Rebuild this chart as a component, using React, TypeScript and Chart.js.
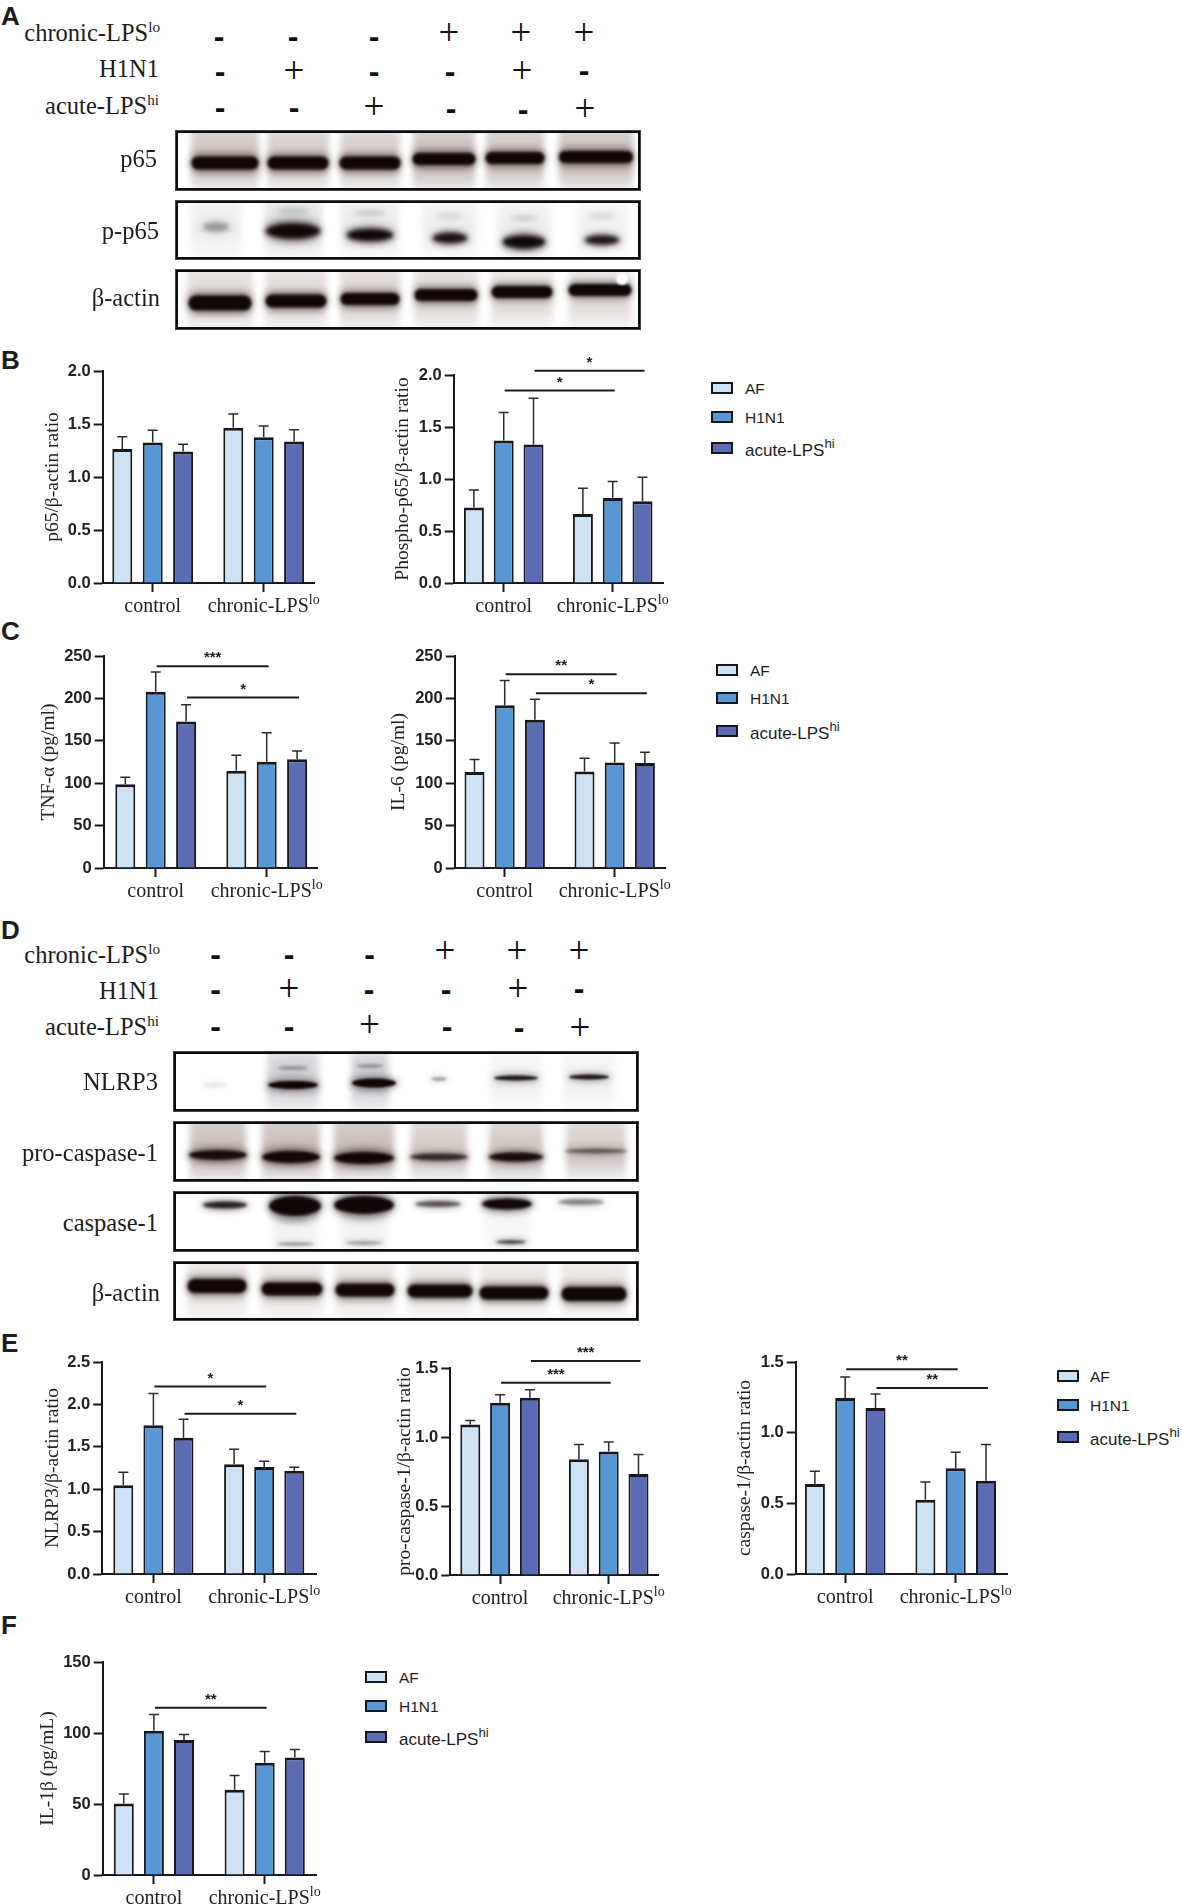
import React, { useEffect, useRef } from "react";
import { Chart, registerables, CategoryScale } from "chart.js";

class GapCategoryScale extends (CategoryScale as any) {
  static id = "gapCategory";
  static defaults = (CategoryScale as any).defaults;
  configure() {
    super.configure();
    (this as any)._startValue = (this as any).options.gapStart;
    (this as any)._valueRange = (this as any).options.gapRange;
  }
}
Chart.register(...registerables, GapCategoryScale as any);

const SERIF = '"Liberation Serif", serif';
const SANS = '"Liberation Sans", sans-serif';
const INK = "#16181e";

const groups = ["control", "chronic-LPSlo"];
const seriesNames = ["AF", "H1N1", "acute-LPS"];
const seriesColors = ["#cfe2f3", "#5897d3", "#5b6bb4"];

// value = [control, chronic-LPSlo]; the t arrays hold the top of each error bar
const p65AF = [1.265, 1.465], p65H1 = [1.325, 1.375], p65Ac = [1.24, 1.335];
const p65AFt = [1.38, 1.595], p65H1t = [1.44, 1.48], p65Act = [1.31, 1.445];
const ppAF = [0.727, 0.664], ppH1 = [1.371, 0.818], ppAc = [1.332, 0.787];
const ppAFt = [0.895, 0.91], ppH1t = [1.64, 0.975], ppAct = [1.776, 1.017];
const tnfAF = [98.8, 114.8], tnfH1 = [207.8, 125.3], tnfAc = [172.8, 128.3];
const tnfAFt = [107, 133], tnfH1t = [231, 159.5], tnfAct = [192.5, 138];
const il6AF = [113.3, 113.8], il6H1 = [191.8, 124.4], il6Ac = [174.8, 123.8];
const il6AFt = [128, 129.5], il6H1t = [221, 147.5], il6Act = [199, 136.5];
const nlAF = [1.048, 1.293], nlH1 = [1.753, 1.263], nlAc = [1.608, 1.218];
const nlAFt = [1.2, 1.47], nlH1t = [2.13, 1.33], nlAct = [1.825, 1.26];
const proAF = [1.091, 0.839], proH1 = [1.248, 0.895], proAc = [1.285, 0.731];
const proAFt = [1.12, 0.945], proH1t = [1.306, 0.964], proAct = [1.343, 0.873];
const casAF = [0.636, 0.525], casH1 = [1.246, 0.748], casAc = [1.174, 0.66];
const casAFt = [0.727, 0.651], casH1t = [1.394, 0.862], casAct = [1.274, 0.916];
const il1AF = [50.4, 60], il1H1 = [101.6, 79], il1Ac = [95, 82.7];
const il1AFt = [57, 70], il1H1t = [113, 87], il1Act = [99, 88.4];

const panels = [
  { title: "p65/β-actin ratio", max: 2, step: 0.5, dec: 1, axisX: 103, end: 315, top: 370.5, bottom: 582.5, titleX: 53, c0: 153, c1: 264, sp: 30.4,
    v: [p65AF, p65H1, p65Ac], e: [p65AFt, p65H1t, p65Act], sig: [] as any[] },
  { title: "Phospho-p65/β-actin ratio", max: 2, step: 0.5, dec: 1, axisX: 454, end: 664, top: 375, bottom: 583, titleX: 403, c0: 504, c1: 613, sp: 29.8,
    v: [ppAF, ppH1, ppAc], e: [ppAFt, ppH1t, ppAct], sig: [{ ds: 1, y: 1.85, t: "*" }, { ds: 2, y: 2.04, t: "*" }] },
  { title: "TNF-α (pg/ml)", max: 250, step: 50, dec: 0, axisX: 104, end: 318, top: 656, bottom: 867.6, titleX: 49, c0: 156, c1: 267, sp: 30.4,
    v: [tnfAF, tnfH1, tnfAc], e: [tnfAFt, tnfH1t, tnfAct], sig: [{ ds: 1, y: 238, t: "***" }, { ds: 2, y: 201, t: "*" }] },
  { title: "IL-6 (pg/ml)", max: 250, step: 50, dec: 0, axisX: 455, end: 666, top: 656, bottom: 868, titleX: 399, c0: 505, c1: 615, sp: 30.2,
    v: [il6AF, il6H1, il6Ac], e: [il6AFt, il6H1t, il6Act], sig: [{ ds: 1, y: 228.6, t: "**" }, { ds: 2, y: 206, t: "*" }] },
  { title: "NLRP3/β-actin ratio", max: 2.5, step: 0.5, dec: 1, axisX: 102.5, end: 316.5, top: 1362, bottom: 1574, titleX: 53, c0: 153.7, c1: 264.5, sp: 30.1,
    v: [nlAF, nlH1, nlAc], e: [nlAFt, nlH1t, nlAct], sig: [{ ds: 1, y: 2.21, t: "*" }, { ds: 2, y: 1.89, t: "*" }] },
  { title: "pro-caspase-1/β-actin ratio", max: 1.5, step: 0.5, dec: 1, axisX: 450.6, end: 659, top: 1368, bottom: 1575, titleX: 405, c0: 500.4, c1: 609, sp: 29.8,
    v: [proAF, proH1, proAc], e: [proAFt, proH1t, proAct], sig: [{ ds: 1, y: 1.394, t: "***" }, { ds: 2, y: 1.55, t: "***" }] },
  { title: "caspase-1/β-actin ratio", max: 1.5, step: 0.5, dec: 1, axisX: 796, end: 1008, top: 1362, bottom: 1574, titleX: 745, c0: 845.5, c1: 956, sp: 30.3,
    v: [casAF, casH1, casAc], e: [casAFt, casH1t, casAct], sig: [{ ds: 1, y: 1.448, t: "**" }, { ds: 2, y: 1.316, t: "**" }] },
  { title: "IL-1β (pg/mL)", max: 150, step: 50, dec: 0, axisX: 102.5, end: 316.5, top: 1662, bottom: 1875, titleX: 47.5, c0: 153.7, c1: 264.5, sp: 30.1,
    v: [il1AF, il1H1, il1Ac], e: [il1AFt, il1H1t, il1Act], sig: [{ ds: 1, y: 117.7, t: "**" }] },
];

const errorAndSigPlugin = {
  id: "errorAndSig",
  afterDatasetsDraw(chart: any, _a: any, opts: any) {
    const ctx = chart.ctx;
    const y = chart.scales.y;
    const x = chart.scales.x;
    ctx.save();
    ctx.strokeStyle = "#2a2c33";
    ctx.lineWidth = 1.5;
    opts.tops.forEach((arr: number[], ds: number) => {
      chart.getDatasetMeta(ds).data.forEach((bar: any, i: number) => {
        const yt = y.getPixelForValue(arr[i]);
        ctx.beginPath();
        ctx.moveTo(bar.x, bar.y);
        ctx.lineTo(bar.x, yt);
        ctx.moveTo(bar.x - 5, yt);
        ctx.lineTo(bar.x + 5, yt);
        ctx.stroke();
      });
    });
    ctx.strokeStyle = "#1c1c1c";
    ctx.lineWidth = 2;
    ctx.fillStyle = "#222";
    ctx.font = `bold 15px ${SANS}`;
    ctx.textAlign = "center";
    ctx.textBaseline = "middle";
    opts.sig.forEach((s: any) => {
      const d = chart.getDatasetMeta(s.ds).data;
      const x0 = d[0].x + 1, x1 = d[1].x + 2, yp = y.getPixelForValue(s.y);
      ctx.beginPath();
      ctx.moveTo(x0, yp);
      ctx.lineTo(x1, yp);
      ctx.stroke();
      ctx.fillText(s.t, (x0 + x1) / 2, yp - 8);
    });
    // x tick labels with their raised suffix
    const yl = y.bottom + 24;
    x.getLabels().forEach((label: string, i: number) => {
      const m = label.match(/^(.*-LPS)(lo)$/);
      const base = m ? m[1] : label;
      const px = x.getPixelForTick(i);
      ctx.font = `20px ${SERIF}`;
      const wb = ctx.measureText(base).width;
      ctx.font = `14px ${SERIF}`;
      const ws = m ? ctx.measureText(m[2]).width : 0;
      const left = px - (wb + ws) / 2;
      ctx.textAlign = "left";
      ctx.fillStyle = "#222";
      ctx.font = `20px ${SERIF}`;
      ctx.fillText(base, left, yl);
      if (m) {
        ctx.font = `14px ${SERIF}`;
        ctx.fillText(m[2], left + wb, yl - 7);
      }
    });
    ctx.restore();
  },
};

function BarPanel({ p }: { p: any }) {
  const ref = useRef<HTMLCanvasElement>(null);
  const PAD_TOP = 50, X_H = 38, PAD_R = 24;
  const tf = 19.5;
  const leftW = p.axisX - p.titleX + tf * 0.6;
  const plotW = p.end - p.axisX;
  const plotH = p.bottom - p.top;
  const W = Math.ceil(leftW + plotW + PAD_R);
  const H = Math.ceil(PAD_TOP + plotH + X_H);
  useEffect(() => {
    const unit = p.c1 - p.c0;
    const chart = new Chart(ref.current as any, {
      type: "bar",
      data: {
        labels: groups,
        datasets: p.v.map((vals: number[], i: number) => ({
          label: seriesNames[i],
          data: vals,
          backgroundColor: seriesColors[i],
          borderColor: INK,
          borderWidth: { top: 3, left: 2, right: 2, bottom: 0 },
          borderSkipped: false,
          categoryPercentage: (3 * p.sp) / unit,
          barPercentage: 20 / p.sp,
        })),
      },
      options: {
        animation: false,
        responsive: false,
        devicePixelRatio: 1,
        layout: { padding: { top: PAD_TOP, right: W - leftW - plotW, left: 0, bottom: 0 } },
        plugins: {
          legend: { display: false },
          tooltip: { enabled: false },
          errorAndSig: { tops: p.e, sig: p.sig },
        },
        scales: {
          x: {
            type: "gapCategory",
            gapStart: -(p.c0 - p.axisX) / unit,
            gapRange: plotW / unit,
            offset: false,
            grid: { offset: false, drawOnChartArea: false, tickLength: 9, tickWidth: 2, color: INK },
            border: { width: 2, color: INK },
            ticks: { display: false, autoSkip: false, maxRotation: 0, minRotation: 0 },
            afterFit(s: any) { s.height = X_H; s.paddingLeft = 0; s.paddingRight = 0; },
          },
          y: {
            min: 0,
            max: p.max,
            grid: { drawOnChartArea: false, tickLength: 9, tickWidth: 2, color: INK },
            border: { width: 2, color: INK },
            ticks: {
              stepSize: p.step,
              padding: 3,
              color: "#222",
              font: { family: SANS, size: 16.5, weight: "bold" },
              callback: (v: any) => Number(v).toFixed(p.dec),
            },
            title: { display: true, text: p.title, color: "#222", padding: 0, font: { family: SERIF, size: tf } },
            afterFit(s: any) { s.width = leftW; s.paddingTop = 0; s.paddingBottom = 0; },
          },
        },
      } as any,
      plugins: [errorAndSigPlugin],
    });
    return () => chart.destroy();
  }, []);
  return (
    <canvas
      ref={ref}
      width={W}
      height={H}
      style={{ position: "absolute", left: p.titleX - tf * 0.6, top: p.top - PAD_TOP, width: W, height: H }}
    />
  );
}

// Western blots: band tables in the blot's own coordinates
const BR = "rgba(112,84,72,";
const GR = "rgba(105,110,125,";
const blots = [
  { name: "p65", x: 176, y: 131, w: 464, h: 59, tone: BR, soft: 1.8, ell: 0,
    bx: [49, 122, 194, 268, 339, 420], by: [32, 32, 32, 28, 27, 26], bw: [67, 61, 61, 63, 59, 74], bh: [13, 13, 13, 12, 12, 12], bd: [1, 1, 1, 1, 1, 1],
    sx: [49, 122, 194, 268, 339, 420], sw: [68, 62, 60, 62, 58, 74], sa: [0.42, 0.36, 0.36, 0.45, 0.42, 0.45] },
  { name: "p-p65", x: 176, y: 201, w: 464, h: 58, tone: GR, soft: 2.2, ell: 1,
    bx: [40, 117, 194, 274, 348, 426, 40, 117, 194, 274, 348, 426], by: [26, 30, 34, 37, 41, 39, 26, 10, 12, 15, 17, 15], bw: [26, 54, 46, 34, 42, 34, 26, 30, 30, 26, 26, 26], bh: [9, 15, 12, 10, 13, 9, 5, 6, 5, 5, 5, 5], bd: [0.28, 1, 1, 0.95, 1, 0.9, 0, 0.12, 0.12, 0.1, 0.12, 0.1],
    sx: [40, 117, 194, 274, 348, 426], sw: [50, 57, 57, 55, 55, 50], sa: [0.13, 0.24, 0.16, 0.12, 0.12, 0.1] },
  { name: "β-actin", x: 176, y: 270, w: 464, h: 59, tone: BR, soft: 1.8, ell: 0,
    bx: [44, 120, 194, 270, 346, 424], by: [33, 31, 29, 25, 22, 20], bw: [63, 61, 59, 63, 61, 63], bh: [15, 13, 12, 12, 12, 12], bd: [1, 1, 1, 1, 1, 1],
    sx: [44, 120, 194, 270, 346, 424], sw: [66, 62, 60, 64, 62, 62], sa: [0.26, 0.26, 0.3, 0.26, 0.22, 0.22], spot: [446, 9, 6] },
  { name: "NLRP3", x: 174, y: 1052, w: 464, h: 59, tone: GR, soft: 1, ell: 1,
    bx: [41, 119, 200, 265, 342, 415, 119, 196], by: [33, 33, 31, 27, 26, 25, 16, 14], bw: [24, 50, 44, 16, 44, 40, 30, 26], bh: [6, 8, 9, 4, 5, 5, 4, 4], bd: [0.06, 1, 1, 0.3, 0.9, 0.9, 0.25, 0.25],
    sx: [119, 196, 342, 415], sw: [52, 38, 50, 50], sa: [0.36, 0.36, 0.1, 0.1] },
  { name: "pro-caspase-1", x: 174, y: 1122, w: 464, h: 59, tone: BR, soft: 1.6, ell: 1,
    bx: [44, 117, 190, 265, 342, 422], by: [33, 35, 36, 35, 35, 29], bw: [58, 58, 60, 58, 54, 62], bh: [10, 12, 12, 7, 9, 5], bd: [0.95, 1, 1, 0.75, 0.95, 0.5],
    sx: [44, 117, 190, 265, 342, 422], sw: [56, 58, 60, 56, 54, 60], sa: [0.45, 0.46, 0.46, 0.36, 0.38, 0.34] },
  { name: "caspase-1", x: 174, y: 1192, w: 464, h: 59, tone: GR, soft: 1.8, ell: 1,
    bx: [51, 121, 190, 264, 333, 407, 121, 190, 337], by: [13, 14, 13, 12, 12, 10, 52, 51, 50], bw: [44, 52, 60, 46, 50, 46, 38, 38, 30], bh: [7, 20, 18, 6, 11, 6, 3, 3, 3], bd: [0.85, 1, 1, 0.6, 1, 0.4, 0.4, 0.4, 0.9],
    sx: [121, 190, 333], sw: [46, 46, 46], sa: [0.14, 0.14, 0.08] },
  { name: "β-actin", x: 174, y: 1262, w: 464, h: 58, tone: BR, soft: 1.8, ell: 0,
    bx: [43, 118, 191, 266, 340, 420], by: [24, 27, 28, 29, 31, 32], bw: [59, 61, 59, 65, 69, 65], bh: [14, 13, 13, 13, 13, 14], bd: [1, 1, 1, 1, 1, 1],
    sx: [43, 118, 191, 266, 340, 420], sw: [60, 62, 60, 64, 68, 66], sa: [0.2, 0.2, 0.2, 0.18, 0.18, 0.18] },
];

const blotPlugin = {
  id: "blotBands",
  beforeDatasetsDraw(chart: any, _a: any, opts: any) {
    const b = opts.blot;
    const { ctx, scales: { x, y }, chartArea } = chart;
    ctx.save();
    ctx.beginPath();
    ctx.rect(chartArea.left, chartArea.top, chartArea.right - chartArea.left, chartArea.bottom - chartArea.top);
    ctx.clip();
    ctx.fillStyle = "#fff";
    ctx.fillRect(0, 0, chart.width, chart.height);
    b.sx.forEach((sx: number, i: number) => {
      const w = x.getPixelForValue(b.sw[i]) - x.getPixelForValue(0);
      const g = ctx.createLinearGradient(0, 0, 0, chart.height);
      const mid = Math.min(0.9, Math.max(0.1, b.by[0] / chart.height));
      g.addColorStop(0, b.tone + (b.sa[i] * 0.6).toFixed(3) + ")");
      g.addColorStop(mid, b.tone + b.sa[i].toFixed(3) + ")");
      g.addColorStop(1, b.tone + (b.sa[i] * 0.28).toFixed(3) + ")");
      ctx.filter = "blur(3px)";
      ctx.fillStyle = g;
      ctx.fillRect(x.getPixelForValue(sx) - w / 2, -6, w, chart.height + 12);
    });
    b.bx.forEach((bx: number, i: number) => {
      if (!b.bd[i]) return;
      const cx = x.getPixelForValue(bx), cy = y.getPixelForValue(b.by[i]);
      const w = x.getPixelForValue(b.bw[i]) - x.getPixelForValue(0);
      const h = b.bh[i];
      ctx.filter = "blur(3.5px)";
      ctx.fillStyle = `rgba(30,14,12,${0.45 * b.bd[i]})`;
      ctx.beginPath();
      if (b.ell) ctx.ellipse(cx, cy, w / 2 + 2, h * 0.8, 0, 0, Math.PI * 2);
      else ctx.roundRect(cx - w / 2 - 1, cy - h * 0.75, w + 2, h * 1.5, h * 0.7);
      ctx.fill();
      ctx.filter = `blur(${b.soft}px)`;
      ctx.fillStyle = `rgba(18,7,7,${b.bd[i]})`;
      ctx.beginPath();
      if (b.ell) ctx.ellipse(cx, cy, w / 2, h / 2, 0, 0, Math.PI * 2);
      else ctx.roundRect(cx - w / 2, cy - h / 2, w, h, h / 2);
      ctx.fill();
    });
    if (b.spot) {
      ctx.filter = "blur(1px)";
      ctx.fillStyle = "#fff";
      ctx.beginPath();
      ctx.arc(x.getPixelForValue(b.spot[0]), y.getPixelForValue(b.spot[1]), b.spot[2], 0, Math.PI * 2);
      ctx.fill();
    }
    ctx.restore();
  },
};

function Blot({ b }: { b: any }) {
  const ref = useRef<HTMLCanvasElement>(null);
  const BW = 2;
  useEffect(() => {
    const chart = new Chart(ref.current as any, {
      type: "scatter",
      data: {
        datasets: [{ label: b.name, data: b.bx.map((x: number, i: number) => ({ x, y: b.by[i] })), pointRadius: 0 }],
      },
      options: {
        animation: false,
        responsive: false,
        devicePixelRatio: 1,
        layout: { padding: 0 },
        plugins: { legend: { display: false }, tooltip: { enabled: false }, blotBands: { blot: b } },
        scales: {
          x: { display: false, min: BW, max: b.w - BW },
          y: { display: false, min: BW, max: b.h - BW, reverse: true },
        },
      } as any,
      plugins: [blotPlugin],
    });
    return () => chart.destroy();
  }, []);
  return (
    <div style={{ position: "absolute", left: b.x, top: b.y, width: b.w, height: b.h, boxSizing: "border-box", border: `${BW}px solid #0c0c0c`, outline: "0.5px solid #444" }}>
      <canvas ref={ref} width={b.w - 2 * BW} height={b.h - 2 * BW} style={{ display: "block", width: b.w - 2 * BW, height: b.h - 2 * BW }} />
    </div>
  );
}

function Txt({ x, y, right, children, size = 24.5, family = SERIF, weight = 400 }: any) {
  const st: any = { position: "absolute", top: y, transform: "translateY(-50%)", fontFamily: family, fontSize: size, fontWeight: weight, lineHeight: 1, whiteSpace: "nowrap", color: "#1d1d1d" };
  if (right !== undefined) st.right = 1182 - right; else st.left = x;
  return <div style={st}>{children}</div>;
}

const Sup = ({ children, size = "62%" }: any) => <sup style={{ fontSize: size, lineHeight: 0, verticalAlign: "baseline", position: "relative", top: "-0.6em" }}>{children}</sup>;

function Sym({ s, x, y }: { s: string; x: number; y: number }) {
  const plus = s === "+";
  return (
    <div style={{
      position: "absolute", left: x, top: y, transform: "translate(-50%,-50%)",
      fontFamily: plus ? SERIF : SANS, fontWeight: plus ? 400 : 700, fontSize: plus ? 37 : 32, lineHeight: 1,
      color: "#111", marginTop: -1,
    }}>{s}</div>
  );
}

const rowChronic = ["-", "-", "-", "+", "+", "+"];
const rowH1N1 = ["-", "+", "-", "-", "+", "-"];
const rowAcute = ["-", "-", "+", "-", "-", "+"];
const tableRows = [rowChronic, rowH1N1, rowAcute];

const tableAx = [[219, 293, 374, 449, 521, 584], [220, 294, 374, 450, 522, 584], [220, 294, 374, 451, 523, 585]];
const tableAy = [[37, 37, 37, 33, 33, 33], [72, 71, 72, 72, 71, 71], [108, 108, 107, 109, 110, 109]];
const tableDx = [[215.5, 289, 369.5, 445, 517, 579], [215.5, 289, 369, 446, 518, 579], [215.5, 289, 369.5, 447, 519, 580]];
const tableDy = [[955, 955, 955, 951, 951, 951], [990, 989, 990, 990, 989, 989], [1027, 1027, 1025, 1027, 1028, 1028]];

function Table({ xs, ys, labelY }: any) {
  return (
    <>
      <Txt right={160} y={labelY[0]}>chronic-LPS<Sup>lo</Sup></Txt>
      <Txt right={159} y={labelY[1]}>H1N1</Txt>
      <Txt right={159} y={labelY[2]}>acute-LPS<Sup>hi</Sup></Txt>
      {tableRows.map((row, r) => row.map((s, c) => <Sym key={r + "-" + c} s={s} x={xs[r][c]} y={ys[r][c]} />))}
    </>
  );
}

function Legend({ x, tx, ys }: any) {
  return (
    <>
      {seriesNames.map((n, i) => (
        <React.Fragment key={n}>
          <div style={{ position: "absolute", left: x, top: ys[i] - 6, width: 22, height: 12, boxSizing: "border-box", background: seriesColors[i], border: `2px solid ${INK}` }} />
          <Txt x={tx} y={ys[i] + (i === 2 ? 2 : 1)} size={i === 2 ? 17 : 15.5} family={SANS}>{n}{i === 2 ? <Sup size="78%">hi</Sup> : null}</Txt>
        </React.Fragment>
      ))}
    </>
  );
}

const letters = [["A", 16], ["B", 360], ["C", 631], ["D", 930], ["E", 1343], ["F", 1625]] as [string, number][];

export default function App() {
  useEffect(() => {
    document.body.style.margin = "0";
  }, []);
  return (
    <div style={{ position: "absolute", left: 0, top: 0, width: 1182, height: 1904, overflow: "hidden", background: "#fff" }}>
      {letters.map(([l, y]) => <Txt key={l} x={1} y={y} size={26} family={SANS} weight={700}>{l}</Txt>)}

      <Table xs={tableAx} ys={tableAy} labelY={[33, 69, 106]} />
      <Table xs={tableDx} ys={tableDy} labelY={[955, 991, 1027]} />

      {blots.map((b, i) => <Blot key={i} b={b} />)}

      <Txt right={157} y={159}>p65</Txt>
      <Txt right={159} y={231}>p-p65</Txt>
      <Txt right={160} y={298}>β-actin</Txt>
      <Txt right={158} y={1082}>NLRP3</Txt>
      <Txt right={158} y={1153}>pro-caspase-1</Txt>
      <Txt right={158} y={1223}>caspase-1</Txt>
      <Txt right={160} y={1293}>β-actin</Txt>

      {panels.map((p, i) => <BarPanel key={i} p={p} />)}

      <Legend x={711} tx={745} ys={[388, 417, 448]} />
      <Legend x={716} tx={750} ys={[669.5, 698, 731]} />
      <Legend x={1057} tx={1090} ys={[1376, 1405, 1437]} />
      <Legend x={365} tx={399} ys={[1677, 1705.5, 1737]} />
    </div>
  );
}
